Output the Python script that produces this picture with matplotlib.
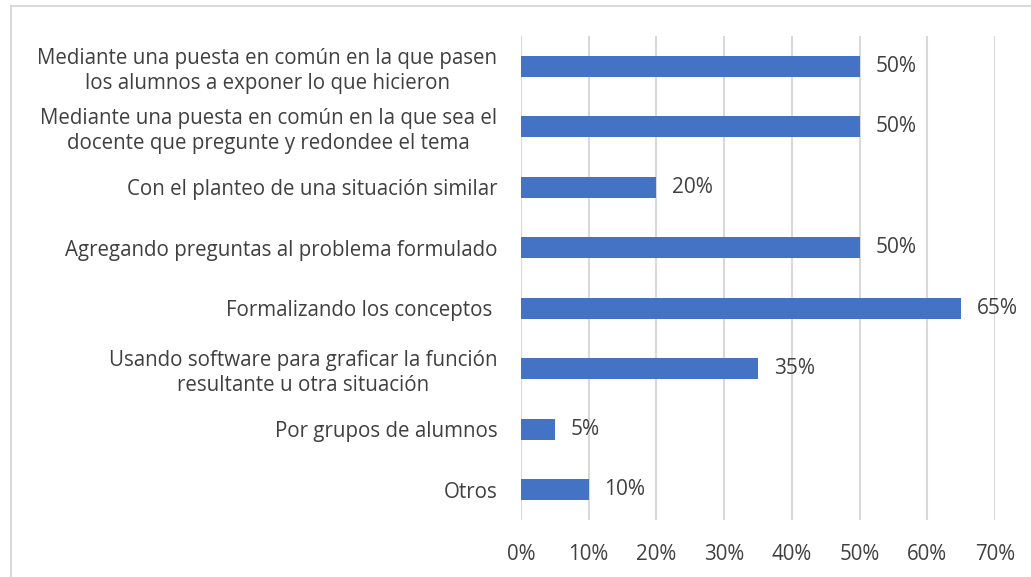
import matplotlib.pyplot as plt
from matplotlib.patches import Rectangle

# Data (top to bottom)
categories = [
    'Mediante una puesta en común en la que pasen\nlos alumnos a exponer lo que hicieron',
    'Mediante una puesta en común en la que sea el\ndocente que pregunte y redondee el tema',
    'Con el planteo de una situación similar',
    'Agregando preguntas al problema formulado',
    'Formalizando los conceptos ',
    'Usando software para graficar la función\nresultante u otra situación',
    'Por grupos de alumnos',
    'Otros',
]
values = [50, 50, 20, 50, 65, 35, 5, 10]
xticks = [0, 10, 20, 30, 40, 50, 60, 70]

text_color = '#404040'
bar_color = '#4472C4'
plt.rcParams['font.family'] = ['Open Sans', 'DejaVu Sans']

fig = plt.figure(figsize=(10.31, 5.77), dpi=100)
W, H = 1031, 577
# plot area in pixels: x 521..995, y 36..520
ax = fig.add_axes([521 / W, 1 - 520 / H, (995 - 521) / W, (520 - 36) / H])

# outer chart border (cut off on right and bottom, as in the picture)
fig.patches.append(Rectangle((10.5 / W, -0.1), 1.2, 1 - 6 / H + 0.1,
                             transform=fig.transFigure, fill=False,
                             edgecolor='#d9d9d9', linewidth=1.5))

y = list(range(len(categories)))
ax.barh(y, values, height=0.35, color=bar_color, zorder=3)
ax.set_ylim(len(categories) - 0.5, -0.5)
ax.set_xlim(0, 70)

for yi, v in zip(y, values):
    ax.text(v + 2.3, yi, f'{v}%', va='center', ha='left', fontsize=15, color=text_color)

ax.set_xticks(xticks)
ax.set_xticklabels([f'{t}%' for t in xticks])
ax.set_yticks(y)
ax.set_yticklabels(categories)
for lab in ax.get_yticklabels():
    lab.set_multialignment('center')
    lab.set_linespacing(1.25)
    lab.set_fontsize(15.4)

ax.tick_params(axis='both', length=0, labelsize=14.8, labelcolor=text_color)
ax.tick_params(axis='y', pad=17)
ax.tick_params(axis='x', pad=17)
ax.grid(axis='x', color='#d9d9d9', linewidth=1.5, zorder=0)
for s in ax.spines.values():
    s.set_visible(False)

fig.savefig('out.png', dpi=100)
